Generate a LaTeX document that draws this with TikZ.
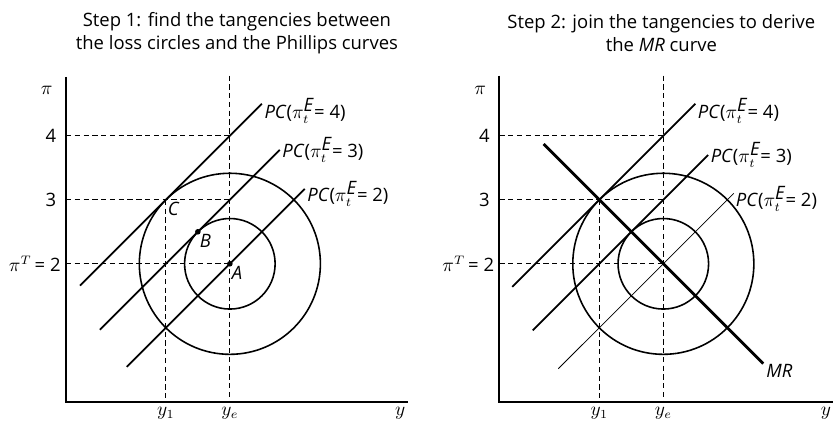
\documentclass[tikz,border=0pt]{standalone}
\usepackage{fontspec}
\setmainfont{Open Sans}
\tikzset{
  axis/.style={line width=1.2pt},
  pcline/.style={line width=1pt},
  pcthin/.style={line width=0.5pt},
  mrline/.style={line width=1.6pt},
  loss/.style={line width=0.9pt},
  guide/.style={dashed, line width=0.6pt, dash pattern=on 3pt off 2pt},
  lbl/.style={font=\fontsize{10.5}{12}\selectfont, inner sep=1pt},
  ttl/.style={font=\fontsize{10.5}{13}\selectfont, align=center},
}
\begin{document}
\begin{tikzpicture}[x=1.28cm, y=1.28cm]
\useasboundingbox (-1.03,-0.39) rectangle (11.98,6.28);

% ---- Step 1 ----
\begin{scope}
\node[ttl] (t1) at (2.67,5.76) {Step 1: find the tangencies between\\the loss circles and the Phillips curves};
\coordinate (o) at (0,0);
\coordinate (A) at (2.56,2.16);
\coordinate (B) at (2.06,2.66);
\coordinate (C) at (1.56,3.16);
\draw[axis] (0,5.08) -- (o) -- (5.34,0);
\node[lbl] (pi) at (-0.3,4.87) {$\pi$};
\node[lbl, anchor=east] (p4) at (-0.12,4.16) {4};
\node[lbl, anchor=east] (p3) at (-0.12,3.16) {3};
\node[lbl, anchor=east] (p2) at (-0.05,2.16) {$\pi^T$\,= 2};
\node[lbl, anchor=north] (y1) at (1.56,-0.05) {$y_1$};
\node[lbl, anchor=north] (ye) at (2.56,-0.05) {$y_e$};
\node[lbl] (yy) at (5.22,-0.17) {$y$};
% guides
\draw[guide] (0,4.16) -- (2.56,4.16);
\draw[guide] (0,3.16) -- (2.56,3.16);
\draw[guide] (0,2.16) -- (A);
\draw[guide] (2.56,5.1) -- (2.56,0);
\draw[guide] (C) -- (1.56,0);
% loss circles
\draw[loss] (A) circle (1.414);
\draw[loss] (A) circle (0.707);
% Phillips curves
\draw[pcline] (0.22,1.82) -- (3.06,4.66) node[lbl, anchor=west, yshift=-4pt] {\textit{PC}($\pi_t^{\textit{E}}$= 4)};
\draw[pcline] (0.53,1.13) -- (3.34,3.94) node[lbl, anchor=west] {\textit{PC}($\pi_t^{\textit{E}}$= 3)};
\draw[pcline] (0.95,0.55) -- (3.73,3.33) node[lbl, anchor=west, yshift=-3pt] {\textit{PC}($\pi_t^{\textit{E}}$= 2)};
\fill (A) circle (1.6pt);
\fill (B) circle (1.6pt);
\node[lbl, anchor=north west] (lA) at (A) {\textit{A}};
\node[lbl, anchor=north west] (lB) at (B) {\textit{B}};
\node[lbl, anchor=north west] (lC) at (C) {\textit{C}};
\end{scope}

% ---- Step 2 ----
\begin{scope}[xshift=6.77*1.28cm]
\node[ttl] (t2) at (2.53,5.76) {Step 2: join the tangencies to derive\\the \textit{MR} curve};
\coordinate (o2) at (0,0);
\coordinate (A2) at (2.56,2.16);
\coordinate (C2) at (1.56,3.16);
\draw[axis] (0,5.1) -- (o2) -- (5.21,0);
\node[lbl] (pib) at (-0.3,4.87) {$\pi$};
\node[lbl, anchor=east] (q4) at (-0.12,4.16) {4};
\node[lbl, anchor=east] (q3) at (-0.12,3.16) {3};
\node[lbl, anchor=east] (q2) at (-0.05,2.16) {$\pi^T$\,= 2};
\node[lbl, anchor=north] (z1) at (1.56,-0.05) {$y_1$};
\node[lbl, anchor=north] (ze) at (2.56,-0.05) {$y_e$};
\node[lbl] (zz) at (5.1,-0.17) {$y$};
% guides
\draw[guide] (0,4.16) -- (2.56,4.16);
\draw[guide] (0,3.16) -- (2.56,3.16);
\draw[guide] (0,2.16) -- (A2);
\draw[guide] (2.56,5.1) -- (2.56,0);
\draw[guide] (C2) -- (1.56,0);
% loss circles
\draw[loss] (A2) circle (1.414);
\draw[loss] (A2) circle (0.707);
% Phillips curves
\draw[pcline] (0.2,1.8) -- (3.06,4.66) node[lbl, anchor=west, yshift=-4pt] {\textit{PC}($\pi_t^{\textit{E}}$= 4)};
\draw[pcline] (0.52,1.12) -- (3.26,3.86) node[lbl, anchor=west] {\textit{PC}($\pi_t^{\textit{E}}$= 3)};
\draw[pcthin] (0.92,0.52) -- (3.66,3.26) node[lbl, anchor=west, yshift=-3pt] {\textit{PC}($\pi_t^{\textit{E}}$= 2)};
% MR curve
\coordinate (m1) at (0.69,4.03);
\coordinate (m2) at (4.12,0.6);
\draw[mrline] (m1) -- (m2) node[lbl, anchor=west, yshift=-4pt] {\textit{MR}};
\end{scope}
\end{tikzpicture}
\end{document}
